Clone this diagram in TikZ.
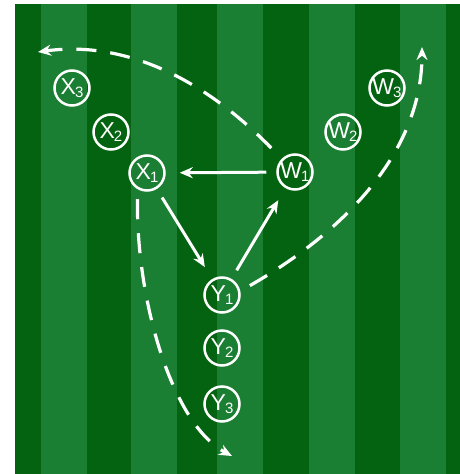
\documentclass[tikz,border=0pt]{standalone}
\usepackage{fontspec}
\setsansfont{Liberation Sans}
\usetikzlibrary{arrows.meta}
\definecolor{pitchdark}{RGB}{4,99,16}
\definecolor{pitchlight}{RGB}{26,127,50}
\newcommand\plabel[2]{#1\kern-1pt\raisebox{-3pt}{\fontsize{15}{15}\selectfont #2}}
\begin{document}
\begin{tikzpicture}[x=1pt,y=-1pt,>={Stealth[length=13pt,width=11pt]},
  player/.style={circle,draw=white,line width=2.5pt,minimum size=35pt,inner sep=0pt,
    text=white,font=\sffamily\fontsize{23}{23}\selectfont},
  pass/.style={->,white,line width=3pt,shorten <=10pt,shorten >=14pt},
  run/.style={->,white,line width=3.2pt,dash pattern=on 20pt off 14pt}]
  \useasboundingbox (0,0) rectangle (460,474);
  \fill[pitchdark] (15,4) rectangle (460,474);
  \foreach \x in {41,131,217,309,400}
    \fill[pitchlight] (\x,4) rectangle ++(46,470);
  \node[player] (x1) at (147,173) {\plabel{X}{1}};
  \node[player] (x2) at (111,132) {\plabel{X}{2}};
  \node[player] (x3) at (72,88) {\plabel{X}{3}};
  \node[player] (w1) at (295,172) {\plabel{W}{1}};
  \node[player] (w2) at (343,132) {\plabel{W}{2}};
  \node[player] (w3) at (387,88) {\plabel{W}{3}};
  \node[player] (y1) at (222,295) {\plabel{Y}{1}};
  \node[player] (y2) at (222,348) {\plabel{Y}{2}};
  \node[player] (y3) at (222,404) {\plabel{Y}{3}};
  \coordinate (runx) at (38,52);
  \coordinate (runw) at (422,47);
  \coordinate (runy) at (232,456);
  \draw[pass] (w1) -- (x1);
  \draw[pass] (x1) -- (y1);
  \draw[pass] (y1) -- (w1);
  \draw[run,shorten <=15pt] (w1.135) .. controls (190,65) and (110,42) .. (runx);
  \draw[run,shorten <=11pt] (y1.12) .. controls (352,227) and (422,147) .. (runw);
  \draw[run,shorten <=10pt] (x1.240) .. controls (136,300) and (172,424) .. (runy);
\end{tikzpicture}
\end{document}
